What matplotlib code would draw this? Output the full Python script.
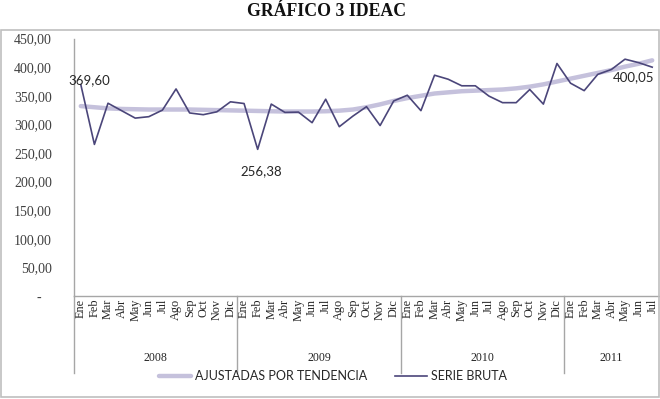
import matplotlib
matplotlib.use("Agg")
import matplotlib.pyplot as plt
import matplotlib.transforms as mtransforms
from matplotlib.lines import Line2D
from matplotlib.patches import Rectangle

# ---- data ----
months = ["Ene", "Feb", "Mar", "Abr", "May", "Jun", "Jul", "Ago", "Sep", "Oct", "Nov", "Dic"]
years = ["2008", "2009", "2010", "2011"]
months_per_year = [12, 12, 12, 7]

serie_bruta = [
    369.60, 265.0, 337.0, 324.0, 311.0, 313.5, 325.0, 362.0, 320.0, 317.0, 322.0, 339.5,
    336.5, 256.38, 335.5, 321.0, 321.5, 303.0, 344.0, 296.0, 314.5, 331.0, 298.0, 341.0,
    351.0, 324.0, 386.0, 379.0, 367.5, 367.5, 349.5, 338.0, 338.0, 361.0, 335.5, 406.5,
    372.0, 359.0, 387.5, 396.0, 414.0, 408.0, 400.05,
]
tendencia = [
    332.0, 330.0, 328.0, 327.0, 326.5, 326.0, 326.0, 326.0, 326.0, 325.5, 325.0, 324.5,
    324.0, 323.5, 323.0, 322.5, 322.5, 322.5, 323.0, 324.0, 326.0, 330.0, 335.0, 341.0,
    346.0, 350.0, 354.0, 356.0, 358.0, 359.0, 360.0, 361.0, 363.0, 366.0, 370.0, 375.0,
    380.0, 385.0, 390.0, 395.0, 401.0, 406.0, 412.0,
]
yticks = [0, 50, 100, 150, 200, 250, 300, 350, 400, 450]
labelled = {0: (8, 4), 13: (4, -22), 42: (-19, -10)}   # index -> pixel offset of data label

month_labels = []
for n in months_per_year:
    month_labels += months[:n]
x = list(range(len(serie_bruta)))

def fmt(v):
    return f"{v:,.2f}".replace(",", "X").replace(".", ",").replace("X", ".")

# ---- figure ----
W, H = 660, 399
fig = plt.figure(figsize=(W / 100, H / 100), dpi=100)
fig.patch.set_color("white")

def fx(px):
    return px / W

def fy(py):
    return 1 - py / H

left, right, top, bottom = 74, 659, 38.6, 296
ax = fig.add_axes([fx(left), fy(bottom), fx(right - left), (bottom - top) / H])

line_col = "#4B467A"
trend_col = "#C5C1DC"
grey = "#A6A6A6"

ax.plot(x, tendencia, color=trend_col, lw=3.2, solid_capstyle="round", label="AJUSTADAS POR TENDENCIA")
ax.plot(x, serie_bruta, color=line_col, lw=1.2, label="SERIE BRUTA")

ax.set_xlim(-0.5, len(x) - 0.5)
ax.set_ylim(0, 450)

for s in ["top", "right"]:
    ax.spines[s].set_visible(False)
for s in ["left", "bottom"]:
    ax.spines[s].set_color(grey)
    ax.spines[s].set_linewidth(1)

ax.set_yticks(yticks)
ax.set_yticklabels([fmt(v) if v else "-   " for v in yticks],
                   family="Liberation Serif", fontsize=10, color="#404040")
ax.tick_params(axis="y", length=0, pad=16)

ax.set_xticks(x)
ax.set_xticklabels(month_labels, rotation=90, family="Liberation Serif", fontsize=8.8, color="#262626")
ax.tick_params(axis="x", length=0, pad=2)

# data labels
for i, (dx, dy) in labelled.items():
    ax.annotate(fmt(serie_bruta[i]), (x[i], serie_bruta[i]), xytext=(dx, dy),
                textcoords="offset pixels", ha="center", va="center",
                family="Lato", fontsize=9.5, color="#262626")

# year group labels and separators
trans = mtransforms.blended_transform_factory(ax.transData, ax.transAxes)
sep_bottom = (bottom - 373) / (bottom - top)
start = 0
for yr, n in zip(years, months_per_year):
    centre = start + (n - 1) / 2
    ax.text(centre, (bottom - 358) / (bottom - top), yr, transform=trans, ha="center", va="center",
            family="Liberation Serif", fontsize=8.6, color="#262626")
    start += n
    if start < len(x):
        ax.add_line(Line2D([start - 0.5, start - 0.5], [0, sep_bottom], transform=trans,
                           color=grey, lw=1, clip_on=False))
ax.add_line(Line2D([-0.5, -0.5], [0, sep_bottom], transform=trans, color=grey, lw=1, clip_on=False))

# legend
leg = fig.legend(loc="center", bbox_to_anchor=(fx(333), fy(376)), ncol=2, frameon=False,
                 handlelength=2.6, columnspacing=2.2, handletextpad=0.3,
                 prop={"family": "Lato", "size": 9})
for t in leg.get_texts():
    t.set_color("#262626")

# title and outer border
fig.text(fx(327), fy(11), "GRÁFICO 3 IDEAC", ha="center", va="center",
         family="Liberation Serif", fontweight="bold", fontsize=12.8, color="#111111")
fig.add_artist(Rectangle((fx(1), fy(397)), fx(658), (397 - 30) / H, transform=fig.transFigure,
                         fill=False, edgecolor="#BFBFBF", lw=1.2))

fig.savefig("out.png", dpi=100)
